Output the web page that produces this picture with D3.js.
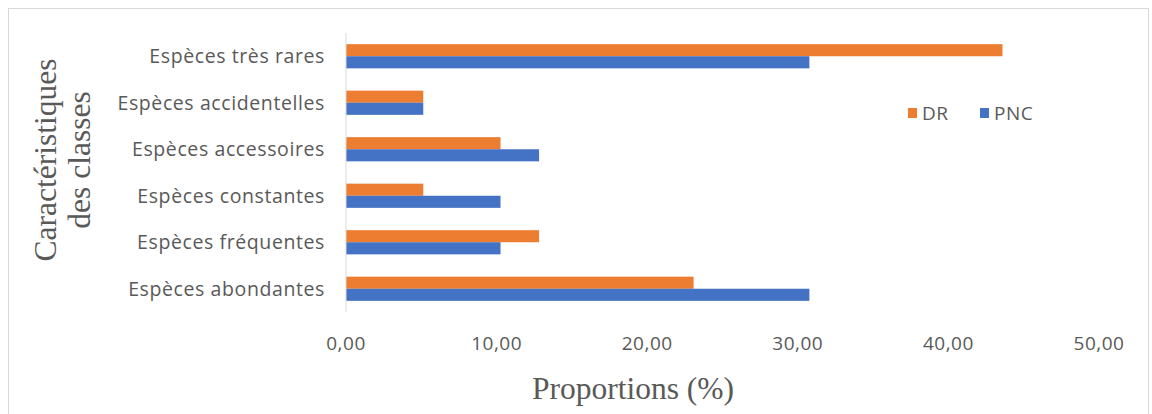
<!DOCTYPE html>
<html>
<head>
<meta charset="utf-8">
<script src="https://cdn.jsdelivr.net/npm/d3@7"></script>
<style>
  body { margin: 0; background: #fff; }
  .cat-label { font-family: "Open Sans", "Noto Sans", sans-serif; font-size: 19.5px; letter-spacing: 0.6px; fill: #595959; }
  .tick-label { font-family: "Open Sans", "Noto Sans", sans-serif; font-size: 19px; letter-spacing: 0.5px; fill: #595959; }
  .axis-title { font-family: "Liberation Serif", "DejaVu Serif", serif; font-size: 31.5px; fill: #595959; }
  .legend-label { font-family: "Open Sans", "Noto Sans", sans-serif; font-size: 19px; letter-spacing: 0.5px; fill: #595959; }
</style>
</head>
<body>
<div id="chart-holder"></div>
<script>
// categories, top to bottom
var categories = [
  "Espèces très rares",
  "Espèces accidentelles",
  "Espèces accessoires",
  "Espèces constantes",
  "Espèces fréquentes",
  "Espèces abondantes"
];
var seriesNames = ["DR", "PNC"];
var drValues = [43.59, 5.13, 10.26, 5.13, 12.82, 23.08];
var pncValues = [30.77, 5.13, 12.82, 10.26, 10.26, 30.77];
var xTicks = [0, 10, 20, 30, 40, 50];

var colors = { DR: "#ED7D31", PNC: "#4472C4" };

var width = 1152, height = 414;
var plotLeft = 346, plotRight = 1099, plotTop = 33, plotBottom = 312;

var svg = d3.select("#chart-holder")
  .append("svg")
  .attr("width", width)
  .attr("height", height);

// chart frame
svg.append("rect")
  .attr("x", 8.5).attr("y", 8.5)
  .attr("width", width - 12).attr("height", height)
  .attr("fill", "#fff")
  .attr("stroke", "#D9D9D9");

var x = d3.scaleLinear().domain([0, 50]).range([plotLeft, plotRight]);
var y = d3.scaleBand().domain(categories).range([plotTop, plotBottom]).paddingInner(0.48).paddingOuter(0.24);
var ySub = d3.scaleBand().domain(seriesNames).range([0, y.bandwidth()]);

// rows of data per category
var rows = categories.map(function(c, i) {
  return { cat: c, DR: drValues[i], PNC: pncValues[i] };
});

// bars
var groups = svg.selectAll("g.row")
  .data(rows)
  .enter()
  .append("g")
  .attr("class", "row")
  .attr("transform", function(d) { return "translate(0," + y(d.cat) + ")"; });

groups.selectAll("rect")
  .data(function(d) {
    return seriesNames.map(function(s) { return { key: s, value: d[s] }; });
  })
  .enter()
  .append("rect")
  .attr("x", x(0))
  .attr("y", function(d) { return ySub(d.key); })
  .attr("width", function(d) { return x(d.value) - x(0); })
  .attr("height", ySub.bandwidth())
  .attr("fill", function(d) { return colors[d.key]; });

// vertical axis line
svg.append("line")
  .attr("x1", x(0)).attr("x2", x(0))
  .attr("y1", plotTop).attr("y2", plotBottom)
  .attr("stroke", "#D9D9D9")
  .attr("stroke-width", 1);

// category labels
svg.selectAll("text.cat-label")
  .data(categories)
  .enter()
  .append("text")
  .attr("class", "cat-label")
  .attr("x", 325)
  .attr("y", function(d) { return y(d) + y.bandwidth() / 2; })
  .attr("dy", "0.35em")
  .attr("text-anchor", "end")
  .text(function(d) { return d; });

// x tick labels
svg.selectAll("text.tick-label")
  .data(xTicks)
  .enter()
  .append("text")
  .attr("class", "tick-label")
  .attr("x", function(d) { return x(d); })
  .attr("y", 350)
  .attr("text-anchor", "middle")
  .text(function(d) { return d3.format(".2f")(d).replace(".", ","); });

// axis titles
svg.append("text")
  .attr("class", "axis-title")
  .attr("x", 633)
  .attr("y", 399)
  .attr("text-anchor", "middle")
  .text("Proportions (%)");

var yTitle = svg.append("text")
  .attr("class", "axis-title")
  .attr("transform", "translate(56,160) rotate(-90)")
  .attr("text-anchor", "middle");
yTitle.append("tspan").attr("x", 0).attr("dy", 0).text("Caractéristiques");
yTitle.append("tspan").attr("x", 0).attr("dy", 34).text("des classes");

// legend
var legendX = [908, 980];
var legend = svg.selectAll("g.legend")
  .data(seriesNames)
  .enter()
  .append("g")
  .attr("class", "legend")
  .attr("transform", function(d, i) { return "translate(" + legendX[i] + ",108)"; });

legend.append("rect")
  .attr("width", 9).attr("height", 10)
  .attr("fill", function(d) { return colors[d]; });

legend.append("text")
  .attr("class", "legend-label")
  .attr("x", 14)
  .attr("y", 5)
  .attr("dy", "0.35em")
  .text(function(d) { return d; });
</script>
</body>
</html>
